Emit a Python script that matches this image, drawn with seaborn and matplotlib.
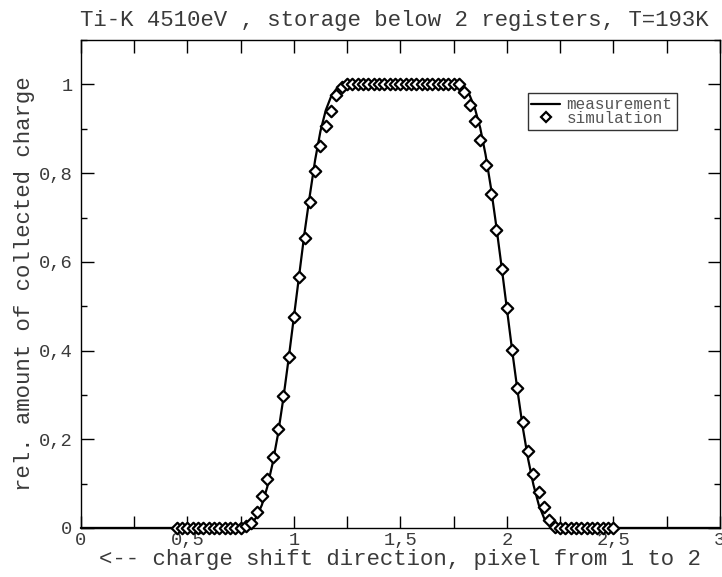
import numpy as np
import pandas as pd
import matplotlib
matplotlib.use("Agg")
import matplotlib.pyplot as plt
from matplotlib.ticker import FuncFormatter, MultipleLocator
from matplotlib.lines import Line2D
import seaborn as sns

# measured charge profile
meas_x = [0.0, 0.775, 0.8, 0.825, 0.85, 0.875, 0.9, 0.925, 0.95, 0.975,
          1.0, 1.025, 1.05, 1.075, 1.1, 1.125, 1.15, 1.175, 1.2, 1.225,
          1.25, 1.775, 1.8, 1.825, 1.85, 1.875, 1.9, 1.925, 1.95, 1.975,
          2.0, 2.025, 2.05, 2.075, 2.1, 2.125, 2.15, 2.175, 2.2, 2.225, 3.0]
meas_y = [0.0, 0.0, 0.008, 0.025, 0.052, 0.092, 0.145, 0.21, 0.29, 0.38,
          0.475, 0.57, 0.665, 0.75, 0.83, 0.895, 0.942, 0.973, 0.99, 0.998,
          1.0, 1.0, 0.993, 0.976, 0.946, 0.902, 0.842, 0.768, 0.682, 0.59,
          0.495, 0.4, 0.31, 0.226, 0.155, 0.097, 0.052, 0.022, 0.006, 0.0, 0.0]

# simulated charge profile, sampled every 0.025 pixel from 0.45 to 2.5
sim_x = np.round(np.linspace(0.45, 2.5, 83), 4)
sim_y = ([0.0] * 13 +
         [0.005, 0.012, 0.037, 0.072, 0.110, 0.161, 0.222, 0.298, 0.385, 0.475,
          0.566, 0.654, 0.734, 0.804, 0.862, 0.906, 0.941, 0.977, 0.995] +
         [1.0] * 22 +
         [0.983, 0.953, 0.917, 0.875, 0.819, 0.752, 0.672, 0.584, 0.496, 0.402,
          0.316, 0.239, 0.174, 0.122, 0.080, 0.047, 0.017, 0.003] +
         [0.0] * 11)

meas = pd.DataFrame({"x": meas_x, "y": meas_y})
sim = pd.DataFrame({"x": sim_x, "y": sim_y})

sns.set_style("ticks")
plt.rcParams["font.family"] = ["Liberation Mono", "DejaVu Sans Mono"]
text_color = "#3a3a3a"

fig = plt.figure(figsize=(7.22, 5.77), dpi=100)
ax = fig.add_axes([0.112, 0.085, 0.885, 0.8455])

sns.lineplot(data=meas, x="x", y="y", ax=ax, color="black", linewidth=1.6,
             clip_on=False, zorder=3)
sns.scatterplot(data=sim, x="x", y="y", ax=ax, marker="D", s=34,
                facecolor="white", edgecolor="black", linewidth=1.6,
                clip_on=False, zorder=4)

ax.set_xlim(0, 3)
ax.set_ylim(0, 1.1)

comma = FuncFormatter(lambda v, p: f"{v:g}".replace(".", ","))
# x ticks every quarter pixel, labelled every half pixel
ax.xaxis.set_major_locator(MultipleLocator(0.25))
ax.xaxis.set_major_formatter(FuncFormatter(
    lambda v, p: f"{v:g}".replace(".", ",") if abs(v * 2 - round(v * 2)) < 1e-6 else ""))
ax.yaxis.set_major_locator(MultipleLocator(0.2))
ax.yaxis.set_minor_locator(MultipleLocator(0.1))
ax.yaxis.set_major_formatter(comma)

ax.tick_params(which="both", direction="in", top=True, right=True,
               colors="black", labelcolor=text_color, labelsize=13.5, width=1)
ax.tick_params(which="major", length=9)
ax.tick_params(which="minor", length=4.5)
ax.tick_params(axis="x", pad=3)
ax.tick_params(axis="y", pad=6)
for s in ax.spines.values():
    s.set_color("black")
    s.set_linewidth(1)

ax.set_xlabel("<-- charge shift direction, pixel from 1 to 2",
              fontsize=16.1, color=text_color, labelpad=0)
ax.set_ylabel("rel. amount of collected charge", fontsize=16.1,
              color=text_color, labelpad=3)
ax.set_title("Ti-K 4510eV , storage below 2 registers, T=193K",
             fontsize=16.1, color=text_color, pad=10, x=0.49)

handles = [Line2D([], [], color="black", linewidth=1.6),
           Line2D([], [], color="black", marker="D", linestyle="none",
                  markersize=5.5, markerfacecolor="white", markeredgewidth=1.6)]
leg = ax.legend(handles, ["measurement", "simulation"], loc="upper left",
                bbox_to_anchor=(0.699, 0.891), borderaxespad=0,
                fontsize=11.5, frameon=True, fancybox=False, shadow=False,
                handlelength=1.8, handletextpad=0.4, labelspacing=-0.08,
                borderpad=0.25, labelcolor="#555555")
leg.get_frame().set_edgecolor("black")
leg.get_frame().set_linewidth(1)

fig.savefig("out.png", dpi=100)
